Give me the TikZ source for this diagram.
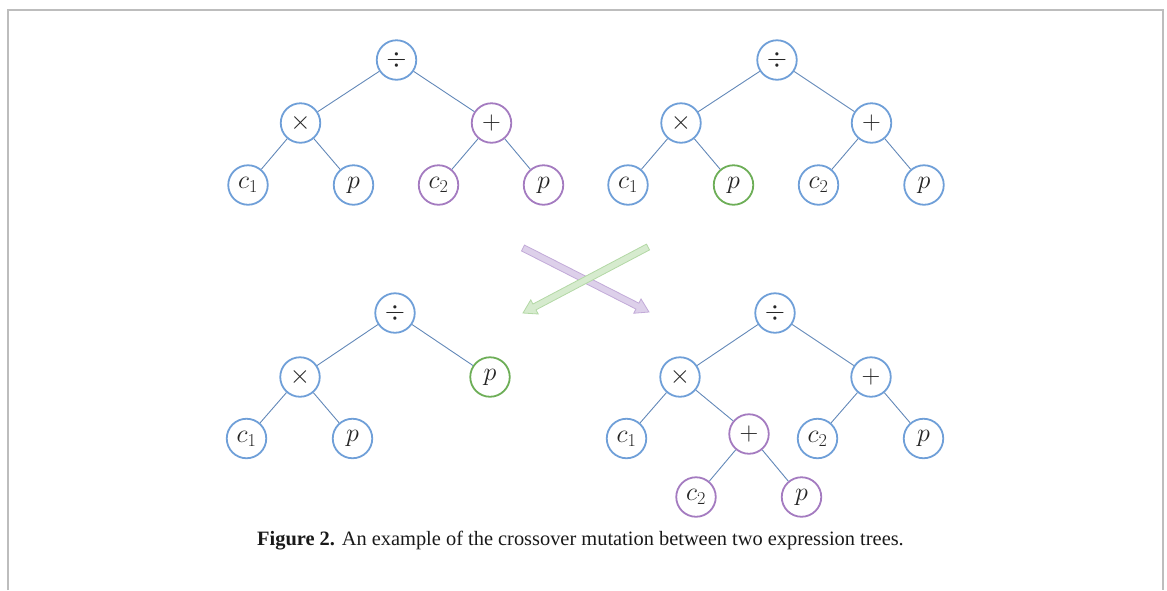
\documentclass[tikz,border=0pt]{standalone}
\usepackage{fix-cm}
\usepackage{fontspec}
\setmainfont{Liberation Serif}
\usetikzlibrary{calc}

\definecolor{nodeblue}{HTML}{6F9FD8}
\definecolor{nodepurple}{HTML}{A47BC0}
\definecolor{nodegreen}{HTML}{6DAE57}
\definecolor{edgeblue}{HTML}{6288B8}
\definecolor{framegray}{HTML}{BDBDBD}
\definecolor{xpurplefill}{HTML}{DDD0EA}
\definecolor{xpurpledraw}{HTML}{C2AAD8}
\definecolor{xgreenfill}{HTML}{D6EBCE}
\definecolor{xgreendraw}{HTML}{B3D8A5}

% fat arrow from #1 to #2, fill #3, outline #4
\newcommand\fatarrow[4]{%
  \coordinate (hb) at ($(#2)!13pt!(#1)$);
  \path[fill=#3, draw=#4, line width=0.8pt, line join=miter]
    ($(#1)!3.3pt!90:(#2)$) -- ($(hb)!3.3pt!90:(#2)$) -- ($(hb)!8pt!90:(#2)$)
    -- (#2) -- ($(hb)!8pt!-90:(#2)$) -- ($(hb)!3.3pt!-90:(#2)$)
    -- ($(#1)!3.3pt!-90:(#2)$) -- cycle;
}

\begin{document}
\begin{tikzpicture}[x=1pt, y=-1pt,
  tnode/.style={circle, draw=nodeblue, line width=1.8pt, minimum size=39.5pt,
    inner sep=0pt, fill=white, text=black!85, font=\fontsize{26}{30}\selectfont},
  pnode/.style={tnode, draw=nodepurple},
  gnode/.style={tnode, draw=nodegreen},
  edge/.style={draw=edgeblue, line width=0.9pt},
  frame/.style={draw=framegray, line width=2pt}]

\useasboundingbox (0,0) rectangle (1167,590);
\draw[frame] (8,590) -- (8,10) -- (1163,10) -- (1163,590);

% first parent tree
\node[tnode] (a0) at (396.5,60) {$\div$};
\node[tnode] (a1) at (300.5,123) {$\times$};
\node[pnode] (a2) at (491.5,123) {$+$};
\node[tnode] (a3) at (248,185) {$c_1$};
\node[tnode] (a4) at (353.5,185) {$p$};
\node[pnode] (a5) at (438.5,185) {$c_2$};
\node[pnode] (a6) at (543.5,185) {$p$};
\draw[edge] (a0) -- (a1) (a0) -- (a2) (a1) -- (a3) (a1) -- (a4) (a2) -- (a5) (a2) -- (a6);

% second parent tree
\node[tnode] (b0) at (777,60) {$\div$};
\node[tnode] (b1) at (681,123) {$\times$};
\node[tnode] (b2) at (871.5,123) {$+$};
\node[tnode] (b3) at (628,185) {$c_1$};
\node[gnode] (b4) at (733.5,185) {$p$};
\node[tnode] (b5) at (818.5,185) {$c_2$};
\node[tnode] (b6) at (924,185) {$p$};
\draw[edge] (b0) -- (b1) (b0) -- (b2) (b1) -- (b3) (b1) -- (b4) (b2) -- (b5) (b2) -- (b6);

% crossover arrows
\coordinate (pa) at (523,248);
\coordinate (pb) at (649,312);
\coordinate (ga) at (648,247);
\coordinate (gb) at (523,313);
\fatarrow{pa}{pb}{xpurplefill}{xpurpledraw}
\fatarrow{ga}{gb}{xgreenfill}{xgreendraw}

% first offspring
\node[tnode] (c0) at (395,313) {$\div$};
\node[tnode] (c1) at (300,377) {$\times$};
\node[gnode] (c2) at (490,377) {$p$};
\node[tnode] (c3) at (246.5,438.5) {$c_1$};
\node[tnode] (c4) at (352.5,438.5) {$p$};
\draw[edge] (c0) -- (c1) (c0) -- (c2) (c1) -- (c3) (c1) -- (c4);

% second offspring
\node[tnode] (d0) at (775,313) {$\div$};
\node[tnode] (d1) at (680,377) {$\times$};
\node[tnode] (d2) at (871,377) {$+$};
\node[tnode] (d3) at (626.5,438.5) {$c_1$};
\node[pnode] (d4) at (749,434) {$+$};
\node[tnode] (d5) at (817.5,438.5) {$c_2$};
\node[tnode] (d6) at (923.5,438.5) {$p$};
\node[pnode] (d7) at (696,497) {$c_2$};
\node[pnode] (d8) at (801.5,497) {$p$};
\draw[edge] (d0) -- (d1) (d0) -- (d2) (d1) -- (d3) (d1) -- (d4) (d2) -- (d5) (d2) -- (d6)
  (d4) -- (d7) (d4) -- (d8);

% caption
\node[anchor=base, inner sep=0pt, text=black!90, font=\fontsize{20.4}{24}\selectfont]
  (caption) at (580.5,545) {\textbf{Figure 2.} An example of the crossover mutation between two expression trees.};
\end{tikzpicture}
\end{document}
